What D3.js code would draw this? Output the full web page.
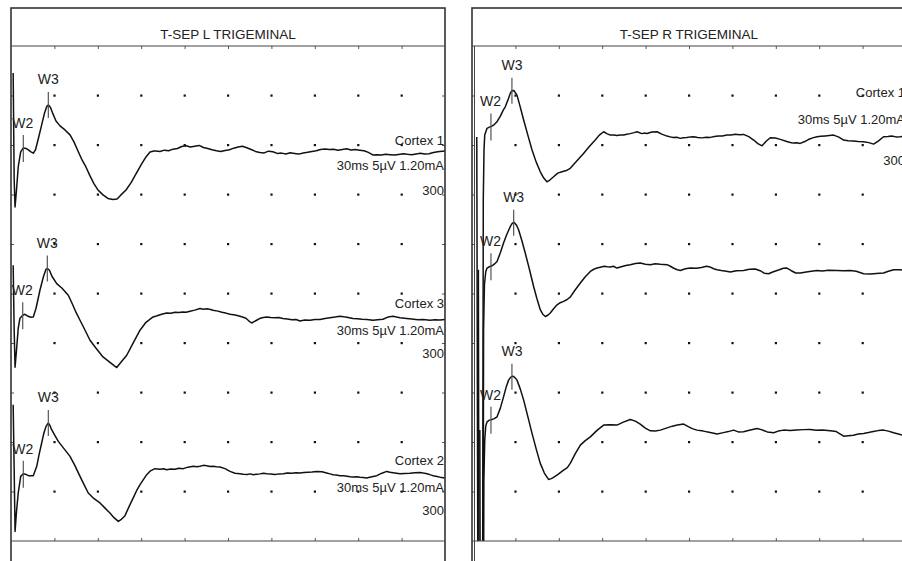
<!DOCTYPE html>
<html lang="en">
<head>
    <meta charset="UTF-8">
    <script src="https://d3js.org/d3.v7.min.js"></script>
    <style>
        body {
            margin: 0;
            background: #fff;
            font-family: Arial, "Liberation Sans", sans-serif;
        }
        .frame { fill: none; stroke: #333; stroke-width: 1.6px; }
        .sep { stroke: #444; stroke-width: 1px; }
        .edge-tick line { stroke: #555; }
        .dot { fill: #111; }
        .trace { fill: none; stroke: #111; stroke-width: 1.5px; stroke-linejoin: round; }
        .mark { stroke: #555; stroke-width: 1.2px; }
        .wlab { font-size: 14px; fill: #222; }
        .chlab { font-size: 13px; fill: #222; }
        .title { font-size: 13.5px; fill: #222; }
    </style>
</head>
<body>
    <div id="chart"></div>

    <script>
        // ---- recording settings ----
        const panelTitles = ["T-SEP L TRIGEMINAL", "T-SEP R TRIGEMINAL"];
        const sweepMs = 30;      // 10 div x 3 ms
        const uvPerDiv = 5;
        const nDiv = 10;
        const settingText = "30ms 5µV 1.20mA";
        const averages = "300";

        // ---- traces: [ms, µV relative to the channel baseline] ----
        const left1 = [
            [0.15,7.98],[0.22,-2.83],[0.28,-5.56],[0.38,-3.84],[0.50,-1.52],[0.67,0.0],[0.85,0.40],[1.04,0.35],
            [1.20,0.20],[1.38,0.0],[1.54,-0.13],[1.69,0.2],[1.90,1.41],[2.12,2.73],[2.32,3.94],[2.47,4.58],
            [2.59,4.75],[2.73,4.49],[2.90,3.84],[3.11,3.13],[3.39,2.63],[3.73,2.22],[4.08,1.72],[4.35,1.01],
            [4.63,0.1],[4.91,-0.81],[5.18,-1.52],[5.46,-2.42],[5.74,-3.23],[6.01,-3.84],[6.36,-4.34],[6.70,-4.70],
            [7.05,-4.80],[7.33,-4.75],[7.60,-4.34],[7.95,-3.84],[8.29,-3.13],[8.64,-2.22],[8.99,-1.31],[9.33,-0.51],
            [9.61,0.0],[9.88,0.1],[10.0,0.10],[10.3,0.05],[10.6,0.18],[10.9,0.12],[11.2,0.28],[11.5,0.35],
            [11.8,0.55],[12.1,0.62],[12.4,0.50],[12.7,0.58],[13.0,0.66],[13.3,0.45],[13.6,0.35],[13.9,0.22],
            [14.2,0.12],[14.5,0.05],[14.8,0.15],[15.1,0.22],[15.4,0.38],[15.7,0.50],[16.0,0.58],[16.3,0.42],
            [16.6,0.25],[16.9,0.05],[17.2,-0.05],[17.5,-0.10],[17.8,0.08],[18.1,0.02],[18.4,-0.15],[18.7,-0.12],
            [19.0,-0.20],[19.3,-0.08],[19.6,-0.15],[19.9,-0.22],[20.2,-0.10],[20.5,-0.04],[20.8,0.05],[21.1,0.12],
            [21.4,0.25],[21.7,0.30],[22.0,0.24],[22.3,0.28],[22.6,0.18],[22.9,0.25],[23.2,0.32],[23.5,0.20],
            [23.8,0.24],[24.1,0.18],[24.4,0.12],[24.7,-0.05],[25.0,-0.30],[25.3,-0.28],[25.6,-0.32],[25.9,-0.24],
            [26.2,-0.28],[26.5,-0.32],[26.8,-0.25],[27.1,-0.18],[27.4,-0.24],[27.7,-0.28],[28.0,-0.20],[28.3,-0.14],
            [28.6,-0.22],[28.9,-0.18],[29.2,-0.05],[29.5,0.02],[29.8,0.08],[30.0,0.10]
        ];
        const left3 = [
            [0.15,5.25],[0.22,-1.31],[0.28,-5.05],[0.38,-3.33],[0.50,-1.11],[0.62,-0.10],[0.81,0.20],[0.97,0.30],
            [1.18,0.10],[1.38,0.0],[1.54,0.03],[1.73,0.91],[2.00,2.73],[2.25,4.14],[2.42,4.85],[2.52,4.92],
            [2.66,4.75],[2.83,4.14],[3.16,3.40],[3.53,2.93],[3.96,2.22],[4.22,1.41],[4.49,0.51],[4.77,-0.30],
            [5.12,-1.31],[5.46,-2.32],[5.88,-3.13],[6.36,-4.01],[6.84,-4.55],[7.31,-5.08],[7.60,-4.55],[8.00,-3.84],
            [8.43,-2.63],[8.92,-1.31],[9.33,-0.51],[9.82,0.03],[10.05,0.12],[10.30,0.25],[10.55,0.35],[10.76,0.43],
            [11.05,0.40],[11.34,0.51],[11.6,0.47],[11.89,0.54],[12.1,0.50],[12.37,0.61],[12.7,0.72],[13.06,0.88],
            [13.3,0.80],[13.55,0.86],[13.8,0.78],[13.96,0.71],[14.3,0.62],[14.58,0.51],[14.85,0.42],[15.14,0.30],
            [15.5,0.22],[15.83,0.10],[16.0,0.02],[16.24,-0.10],[16.45,-0.38],[16.64,-0.58],[16.8,-0.45],[16.98,-0.30],
            [17.2,-0.12],[17.35,-0.05],[17.68,0.03],[17.95,-0.02],[18.25,-0.05],[18.5,-0.02],[18.80,-0.13],[19.1,-0.18],
            [19.42,-0.25],[19.7,-0.22],[19.98,-0.37],[20.3,-0.28],[20.67,-0.30],[21.0,-0.22],[21.36,-0.23],[21.7,-0.12],
            [22.05,-0.05],[22.4,0.02],[22.74,0.10],[23.0,0.04],[23.22,0.0],[23.64,-0.13],[23.95,-0.15],[24.26,-0.20],
            [24.6,-0.22],[25.02,-0.30],[25.35,-0.24],[25.71,-0.20],[26.05,0.02],[26.41,0.10],[26.65,0.02],[26.89,-0.05],
            [27.35,-0.13],[27.7,-0.18],[28.13,-0.25],[28.5,-0.22],[28.96,-0.30],[29.3,-0.26],[29.65,-0.28],[30.0,-0.23]
        ];
        const left2 = [
            [0.15,6.97],[0.22,0.40],[0.28,-5.83],[0.38,-3.84],[0.50,-1.95],[0.67,-0.27],[0.85,0.0],[1.00,-0.05],
            [1.20,-0.20],[1.54,-0.20],[1.78,0.74],[1.94,1.92],[2.12,3.10],[2.28,4.14],[2.42,4.78],[2.58,5.12],
            [2.70,4.85],[2.81,4.44],[3.04,3.84],[3.27,3.26],[3.66,2.53],[4.08,1.75],[4.42,0.81],[4.77,-0.27],
            [5.05,-1.11],[5.34,-1.95],[5.74,-2.53],[6.15,-2.96],[6.50,-3.48],[6.84,-3.97],[7.12,-4.44],[7.42,-4.82],
            [7.60,-4.65],[7.88,-4.24],[8.16,-3.33],[8.45,-2.45],[8.68,-1.72],[8.92,-1.11],[9.38,-0.10],[9.61,0.25],
            [9.95,0.51],[10.30,0.45],[10.55,0.50],[10.76,0.40],[11.05,0.48],[11.34,0.45],[11.6,0.55],[11.91,0.51],
            [12.23,0.66],[12.60,0.74],[12.85,0.70],[13.06,0.76],[13.3,0.84],[13.53,0.81],[13.75,0.72],[13.96,0.76],
            [14.2,0.70],[14.45,0.68],[14.79,0.51],[15.14,0.23],[15.48,0.05],[15.83,0.0],[16.05,-0.05],[16.31,-0.08],
            [16.55,-0.02],[16.75,-0.10],[17.0,-0.05],[17.21,-0.02],[17.45,0.05],[17.68,0.0],[17.95,-0.04],[18.25,-0.08],
            [18.55,-0.02],[18.82,0.0],[19.1,0.07],[19.42,0.05],[19.7,0.10],[19.98,0.07],[20.25,0.12],[20.53,0.15],
            [20.8,0.18],[21.13,0.23],[21.50,0.20],[21.82,0.07],[22.05,-0.02],[22.26,-0.10],[22.5,-0.14],[22.74,-0.20],
            [23.0,-0.22],[23.22,-0.25],[23.45,-0.30],[23.66,-0.33],[23.9,-0.30],[24.12,-0.35],[24.35,-0.38],[24.58,-0.43],
            [24.95,-0.30],[25.28,-0.20],[25.64,0.05],[25.97,0.23],[26.2,0.15],[26.41,0.10],[26.65,0.05],[26.89,0.0],
            [27.2,0.02],[27.58,0.05],[27.9,0.10],[28.27,0.13],[28.5,0.06],[28.76,0.0],[29.0,-0.12],[29.19,-0.20],
            [29.45,-0.28],[29.65,-0.35],[30.0,-0.43]
        ];
        const right1 = [
            [0.33,0],[0.44,-67],[0.71,-67],[0.78,-6.36],[0.83,-1.31],[0.88,0.2],[1.04,0.88],[1.20,1.01],
            [1.38,1.11],[1.54,1.26],[1.73,1.55],[1.96,2.12],[2.16,2.73],[2.30,3.06],[2.51,3.84],[2.65,4.44],
            [2.76,4.68],[2.89,4.70],[3.11,4.24],[3.30,3.23],[3.57,1.72],[3.86,0.20],[4.15,-1.31],[4.44,-2.53],
            [4.72,-3.51],[4.96,-4.14],[5.18,-4.52],[5.38,-4.34],[5.64,-4.01],[5.93,-3.64],[6.22,-3.51],[6.52,-3.38],
            [6.79,-3.16],[7.24,-2.42],[7.71,-1.65],[8.11,-0.96],[8.52,-0.30],[8.80,0.20],[9.10,0.54],[9.32,0.35],
            [9.56,0.20],[9.8,0.22],[10.01,0.15],[10.25,0.22],[10.48,0.20],[10.7,0.28],[10.94,0.35],[11.2,0.45],
            [11.41,0.54],[11.74,0.35],[11.9,0.40],[12.10,0.37],[12.43,0.51],[12.79,0.54],[13.12,0.30],[13.48,0.10],
            [13.7,0.02],[13.91,-0.05],[14.15,-0.02],[14.40,-0.13],[14.6,-0.06],[14.85,-0.05],[15.1,0.02],[15.32,0.03],
            [15.6,-0.04],[15.88,-0.08],[16.2,-0.02],[16.47,-0.03],[16.75,0.05],[17.03,0.10],[17.3,0.12],[17.63,0.20],
            [17.9,0.22],[18.20,0.28],[18.5,0.24],[18.77,0.27],[19.13,0.05],[19.47,-0.30],[19.76,-0.66],[20.05,-0.88],
            [20.35,-0.40],[20.62,-0.07],[20.97,-0.10],[21.31,-0.23],[21.76,-0.45],[22.0,-0.55],[22.21,-0.61],[22.45,-0.58],
            [22.69,-0.64],[23.0,-0.45],[23.25,-0.25],[23.55,-0.08],[23.85,0.03],[24.1,0.08],[24.42,0.12],[24.7,0.16],
            [25.00,0.20],[25.36,0.0],[25.69,-0.30],[26.0,-0.36],[26.36,-0.40],[26.7,-0.44],[27.07,-0.47],[27.43,-0.56],
            [27.76,-0.71],[28.08,-0.40],[28.45,0.03],[28.75,0.06],[29.02,0.10],[29.3,0.02],[29.60,0.03],[30.0,0.10]
        ];
        const right2 = [
            [0.44,0],[0.52,-63.6],[0.73,-63.6],[0.80,-6.06],[0.86,-1.52],[0.95,-0.20],[1.04,0.17],[1.20,0.30],
            [1.38,0.40],[1.54,0.56],[1.73,0.84],[1.96,1.72],[2.18,2.70],[2.41,3.59],[2.65,4.37],[2.79,4.70],
            [2.92,4.78],[3.08,4.49],[3.22,4.04],[3.44,2.98],[3.68,1.69],[3.96,0.10],[4.26,-1.69],[4.48,-2.88],
            [4.72,-4.04],[4.89,-4.49],[5.07,-4.72],[5.24,-4.60],[5.41,-4.37],[5.64,-3.94],[5.88,-3.54],[6.10,-3.33],
            [6.33,-3.20],[6.55,-3.03],[6.79,-2.76],[7.14,-2.02],[7.49,-1.34],[7.83,-0.71],[8.18,-0.17],[8.42,0.05],
            [8.64,0.17],[8.87,0.25],[9.14,0.35],[9.35,0.30],[9.56,0.27],[9.77,0.35],[10.02,0.17],[10.32,0.30],
            [10.63,0.42],[10.94,0.51],[11.29,0.63],[11.63,0.68],[11.98,0.56],[12.33,0.51],[12.67,0.61],[13.02,0.56],
            [13.48,0.51],[13.71,0.35],[13.95,0.15],[14.19,0.0],[14.40,-0.07],[14.75,0.10],[15.09,0.17],[15.51,0.15],
            [15.86,0.22],[16.21,0.35],[16.47,0.27],[16.71,0.10],[16.94,0.0],[17.23,-0.08],[17.58,-0.15],[17.86,-0.23],
            [18.27,-0.10],[18.77,-0.07],[19.17,0.05],[19.58,0.07],[19.92,-0.10],[20.20,-0.35],[20.50,-0.40],[20.83,-0.20],
            [21.24,0.0],[21.52,0.15],[21.77,0.17],[22.07,-0.10],[22.38,-0.33],[22.69,-0.33],[23.11,-0.22],[23.45,-0.15],
            [23.85,-0.07],[24.21,-0.12],[24.63,-0.05],[25.23,-0.07],[25.66,-0.10],[26.14,-0.07],[26.56,-0.15],[27.07,-0.40],
            [27.53,-0.43],[27.95,-0.38],[28.45,-0.33],[28.78,-0.15],[29.15,0.0],[29.60,0.0],[30.0,-0.05]
        ];
        const right3 = [
            [0.54,0],[0.62,-47.5],[0.75,-47.5],[0.82,-5.05],[0.88,-1.01],[0.95,0.40],[1.04,0.84],[1.20,1.01],
            [1.38,1.08],[1.54,1.16],[1.73,1.34],[1.96,2.22],[2.18,3.36],[2.37,4.39],[2.53,5.05],[2.68,5.35],
            [2.83,5.45],[2.97,5.30],[3.11,5.05],[3.34,4.14],[3.57,3.03],[3.86,1.36],[4.15,-0.33],[4.44,-1.92],
            [4.72,-3.36],[5.00,-4.34],[5.29,-4.98],[5.48,-4.90],[5.64,-4.78],[5.97,-4.44],[6.33,-4.04],[6.59,-3.79],
            [6.79,-3.36],[7.14,-2.37],[7.49,-1.52],[7.83,-1.06],[8.18,-0.68],[8.66,0.0],[9.10,0.51],[9.56,0.53],
            [10.02,0.51],[10.46,0.81],[10.94,1.08],[11.29,0.91],[11.63,0.61],[11.98,0.20],[12.33,-0.07],[12.67,-0.08],
            [13.02,0.0],[13.43,0.20],[13.85,0.40],[14.19,0.51],[14.63,0.61],[14.95,0.35],[15.23,0.15],[15.55,0.0],
            [15.99,-0.10],[16.47,-0.25],[16.94,-0.40],[17.30,-0.28],[17.72,-0.15],[18.08,0.0],[18.41,-0.18],[18.77,-0.17],
            [19.17,-0.02],[19.70,0.17],[20.00,0.05],[20.41,-0.18],[20.85,-0.27],[21.17,-0.10],[21.54,0.0],[22.00,-0.05],
            [22.42,0.02],[22.90,0.05],[23.38,0.07],[23.80,-0.02],[24.21,0.02],[24.77,-0.07],[25.18,-0.15],[25.46,-0.40],
            [25.69,-0.61],[26.01,-0.56],[26.36,-0.51],[26.70,-0.40],[27.07,-0.33],[27.40,-0.25],[27.74,-0.15],[28.08,-0.05],
            [28.45,0.0],[28.78,-0.10],[29.15,-0.27],[29.47,-0.40],[29.75,-0.51],[30.0,-0.56]
        ];

        // channel names, baselines (µV on the 0..50 screen scale) and peak latencies (ms)
        const leftNames = ["Cortex 1", "Cortex 3", "Cortex 2"];
        const leftBase = [39.3, 22.6, 6.8];
        const leftW2 = [0.85, 0.81, 0.85];
        const leftW3 = [2.58, 2.51, 2.58];
        const rightNames = ["Cortex 1"];
        const rightBase = [40.8, 27.4, 11.2];
        const rightW2 = [1.31, 1.31, 1.31];
        const rightW3 = [2.76, 2.88, 2.76];

        // ---- layout ----
        const W = 902, H = 561;
        const frameTop = 8, plotTop = 46, plotBottom = 541;
        const panelBox = [{left: 11, right: 445}, {left: 472, right: 906}];
        // rows (in divisions) of the three label lines per channel
        const leftLabelRows = [[8.0, 7.49, 6.99], [4.71, 4.16, 3.70], [1.54, 0.99, 0.53]];
        const rightLabelRows = [[8.97, 8.42, 7.6]];

        const panels = [
            {title: panelTitles[0], traces: [left1, left3, left2], base: leftBase, w2: leftW2, w3: leftW3,
             names: leftNames, labelRows: leftLabelRows},
            {title: panelTitles[1], traces: [right1, right2, right3], base: rightBase, w2: rightW2, w3: rightW3,
             names: rightNames, labelRows: rightLabelRows}
        ];

        const svg = d3.select("#chart")
            .append("svg")
            .attr("width", W)
            .attr("height", H);

        function valueAt(tr, t) {
            const i = d3.bisector(d => d[0]).left(tr, t);
            if (i <= 0) return tr[0][1];
            if (i >= tr.length) return tr[tr.length - 1][1];
            const a = tr[i - 1], b = tr[i];
            const f = (t - a[0]) / (b[0] - a[0]);
            return a[1] + f * (b[1] - a[1]);
        }

        panels.forEach((p, pi) => {
            const box = panelBox[pi];
            const x = d3.scaleLinear().domain([0, sweepMs]).range([box.left, box.right]);
            const y = d3.scaleLinear().domain([0, nDiv * uvPerDiv]).range([plotBottom, plotTop]);
            const g = svg.append("g");

            const clipId = "clip" + pi;
            svg.append("clipPath").attr("id", clipId)
                .append("rect")
                .attr("x", box.left)
                .attr("y", plotTop)
                .attr("width", box.right - box.left)
                .attr("height", plotBottom - plotTop);

            const tDiv = sweepMs / nDiv;
            const gridT = d3.range(1, nDiv).map(k => k * tDiv);
            const gridV = d3.range(1, nDiv).map(k => k * uvPerDiv);

            // small ticks along the plot edges
            const noLabel = a => a.tickFormat("").tickSizeOuter(0).tickSize(3);
            g.append("g").attr("class", "edge-tick")
                .attr("transform", `translate(0,${plotTop})`)
                .call(noLabel(d3.axisBottom(x).tickValues(gridT)));
            g.append("g").attr("class", "edge-tick")
                .attr("transform", `translate(0,${plotBottom})`)
                .call(noLabel(d3.axisTop(x).tickValues(gridT)));
            g.append("g").attr("class", "edge-tick")
                .attr("transform", `translate(${box.left},0)`)
                .call(noLabel(d3.axisRight(y).tickValues(gridV)));
            g.append("g").attr("class", "edge-tick")
                .attr("transform", `translate(${box.right},0)`)
                .call(noLabel(d3.axisLeft(y).tickValues(gridV)));
            g.selectAll(".edge-tick .domain").remove();

            // dot grid
            const dots = [];
            gridT.forEach(t => gridV.forEach(v => dots.push([t, v])));
            g.selectAll(".dot")
                .data(dots)
                .enter()
                .append("rect")
                .attr("class", "dot")
                .attr("x", d => x(d[0]) - 1)
                .attr("y", d => y(d[1]) - 1)
                .attr("width", 2.2)
                .attr("height", 2.2);

            // channel labels
            p.names.forEach((name, ci) => {
                const rows = p.labelRows[ci];
                [name, settingText, averages].forEach((txt, li) => {
                    g.append("text")
                        .attr("class", "chlab")
                        .attr("x", box.right - 1)
                        .attr("y", y(rows[li] * uvPerDiv))
                        .attr("text-anchor", "end")
                        .text(txt);
                });
            });

            // traces
            const line = d3.line();
            p.traces.forEach((tr, ci) => {
                const base = p.base[ci];
                g.append("path")
                    .attr("class", "trace")
                    .attr("clip-path", `url(#${clipId})`)
                    .attr("d", line.x(d => x(d[0])).y(d => y(base + d[1]))(tr));

                // W2 / W3 markers
                const y2 = y(base + valueAt(tr, p.w2[ci]));
                const x2 = x(p.w2[ci]);
                g.append("line").attr("class", "mark")
                    .attr("x1", x2).attr("x2", x2)
                    .attr("y1", y2 - 13).attr("y2", y2 + 14);
                g.append("text").attr("class", "wlab")
                    .attr("x", x2 + 10).attr("y", y2 - 20)
                    .attr("text-anchor", "end")
                    .text("W2");

                const y3 = y(base + valueAt(tr, p.w3[ci]));
                const x3 = x(p.w3[ci]);
                g.append("line").attr("class", "mark")
                    .attr("x1", x3).attr("x2", x3)
                    .attr("y1", y3 - 13).attr("y2", y3 + 13);
                g.append("text").attr("class", "wlab")
                    .attr("x", x3).attr("y", y3 - 21)
                    .attr("text-anchor", "middle")
                    .text("W3");
            });

            // frame, title band and bottom line
            g.append("rect")
                .attr("class", "frame")
                .attr("x", box.left)
                .attr("y", frameTop)
                .attr("width", box.right - box.left)
                .attr("height", H + 20 - frameTop);
            g.append("line").attr("class", "sep")
                .attr("x1", box.left).attr("x2", box.right)
                .attr("y1", plotTop).attr("y2", plotTop);
            g.append("line").attr("class", "sep")
                .attr("x1", box.left).attr("x2", box.right)
                .attr("y1", plotBottom).attr("y2", plotBottom);
            if (pi === 1) {
                // the right panel has a doubled left edge
                g.append("line").attr("class", "sep")
                    .attr("x1", box.left + 2.5).attr("x2", box.left + 2.5)
                    .attr("y1", plotTop).attr("y2", H);
            }

            g.append("text")
                .attr("class", "title")
                .attr("x", (box.left + box.right) / 2)
                .attr("y", 39)
                .attr("text-anchor", "middle")
                .text(p.title);
        });
    </script>
</body>
</html>
